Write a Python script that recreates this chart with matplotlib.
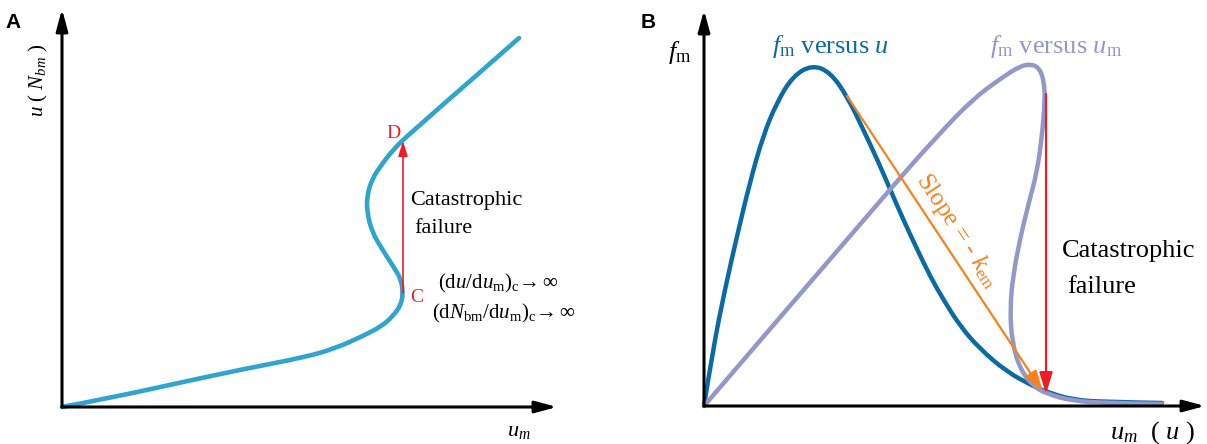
import matplotlib
matplotlib.use("Agg")
import matplotlib.pyplot as plt
from matplotlib.path import Path
from matplotlib.patches import PathPatch
import numpy as np

plt.rcParams["font.family"] = ["Liberation Serif", "DejaVu Serif"]
plt.rcParams["mathtext.fontset"] = "custom"
plt.rcParams["mathtext.rm"] = "Liberation Serif"
plt.rcParams["mathtext.it"] = "Liberation Serif:italic"

# panel A: u versus u_m (S-shaped curve)
um_a = [0, 53, 130, 187, 244, 274, 301, 320, 331, 339, 341, 339, 331, 320, 310,
        305, 305, 310, 320, 331, 343, 358, 377, 415, 457]
u_a = [0, 10, 27, 39, 50, 59, 71, 81, 91, 102, 114, 128, 141, 158, 175,
       195, 211, 228, 243, 257, 269, 282, 299, 332, 369]
point_c = (341, 114)
point_d = (341, 266)

# panel B: f_m versus u (dark blue) and f_m versus u_m (light purple)
u_b = [0, 9, 21, 33, 46, 59, 73, 89, 108, 126, 143, 159, 173, 186, 199, 213,
       226, 239, 256, 276, 303, 329, 343, 369, 403, 458]
fm_u = [0, 57, 117, 170, 224, 270, 304, 330, 341, 334, 310, 277, 247, 217, 187, 157,
        130, 107, 80, 57, 34, 20, 14, 6, 4, 3]
um_b = [0, 186, 236, 269, 296, 316, 328, 336, 340, 341, 338, 333, 324, 316, 309,
        306, 308, 316, 329, 343, 369, 403, 458]
fm_um = [0, 217, 273, 307, 327, 340, 342, 337, 324, 307, 270, 234, 200, 167, 130,
         97, 64, 37, 20, 12, 5, 3, 2]
slope_start = (143, 310)
slope_end = (339, 14)
fail_x = 342
fail_top = 312
fail_bottom = 12

W, H = 1207, 444
fig = plt.figure(figsize=(W / 100, H / 100), dpi=100)


def make_axes(x0, y0, x1, y1):
    ax = fig.add_axes([x0 / W, (H - y0) / H, (x1 - x0) / W, (y0 - y1) / H])
    ax.set_xlim(0, x1 - x0)
    ax.set_ylim(0, y0 - y1)
    ax.axis("off")
    return ax


def arrow(ax, start, end, color, lw, hl, hw):
    ax.annotate("", xy=end, xytext=start, annotation_clip=False,
                arrowprops=dict(arrowstyle="-|>,head_length=%s,head_width=%s" % (hl, hw),
                                color=color, lw=lw, shrinkA=0, shrinkB=0,
                                mutation_scale=10))


def smooth_curve(ax, xs, ys, color, lw):
    # quadratic bezier path through the read points (points act as control points)
    pts = np.column_stack([xs, ys]).astype(float)
    verts = [pts[0]]
    codes = [Path.MOVETO]
    for i in range(1, len(pts) - 1):
        mid = (pts[i] + pts[i + 1]) / 2 if i < len(pts) - 2 else pts[i + 1]
        verts += [pts[i], mid]
        codes += [Path.CURVE3, Path.CURVE3]
    patch = PathPatch(Path(verts, codes), facecolor="none", edgecolor=color, lw=lw,
                      capstyle="round", joinstyle="round", clip_on=False)
    ax.add_patch(patch)


# ---- panel A ----
axA = make_axes(62, 407, 557, 9)
arrow(axA, (0, 0), (495, 0), "black", 2.2, 1.3, 0.35)
arrow(axA, (0, 0), (0, 398), "black", 2.2, 1.3, 0.35)
smooth_curve(axA, um_a, u_a, "#2ea4cf", 3.3)
arrow(axA, point_c, point_d, "#ee1c25", 1.2, 0.9, 0.28)
axA.text(331, 274, "D", color="#ee1c25", fontsize=14, ha="center", va="center")
axA.text(355, 110, "C", color="#ee1c25", fontsize=14, ha="center", va="center")
axA.text(348, 207, "Catastrophic", fontsize=16, ha="left", va="center")
axA.text(352, 179, "failure", fontsize=16, ha="left", va="center")
axA.text(376, 124, r"$(\mathrm{d}u/\mathrm{d}u_{\mathrm{m}})_{\mathrm{c}}\!\rightarrow\infty$",
         fontsize=15, ha="left", va="center")
axA.text(370, 94, r"$(\mathrm{d}N_{\mathrm{bm}}/\mathrm{d}u_{\mathrm{m}})_{\mathrm{c}}\!\rightarrow\infty$",
         fontsize=15, ha="left", va="center")
axA.text(-24, 327, r"$u$ ( $N_{bm}$ )", fontsize=15, rotation=90, ha="center", va="center")
axA.text(457, -24, r"$u_m$", fontsize=16, ha="center", va="center")
fig.text(5 / W, (H - 22) / H, "A", fontsize=15, fontweight="bold",
         family="Liberation Sans", ha="left", va="center")

# ---- panel B ----
axB = make_axes(704, 406, 1205, 10)
arrow(axB, (0, 0), (501, 0), "black", 2.2, 1.3, 0.35)
arrow(axB, (0, 0), (0, 396), "black", 2.2, 1.3, 0.35)
smooth_curve(axB, u_b, fm_u, "#0b6aa6", 3.2)
smooth_curve(axB, um_b, fm_um, "#9398ca", 3.2)
arrow(axB, slope_start, slope_end, "#f5821f", 1.6, 1.3, 0.4)
arrow(axB, (fail_x, fail_top), (fail_x, fail_bottom), "#ee1c25", 1.6, 1.3, 0.4)

ang = np.degrees(np.arctan2(slope_end[1] - slope_start[1], slope_end[0] - slope_start[0]))
axB.text(253, 175, r"Slope = - $k_{\mathrm{em}}$", color="#f5821f", fontsize=18,
         rotation=ang, rotation_mode="anchor", ha="center", va="center")
axB.text(68, 360, r"$f_{\mathrm{m}}$ versus $u$", color="#0b6aa6", fontsize=19,
         ha="left", va="center")
axB.text(286, 360, r"$f_{\mathrm{m}}$ versus $u_{\mathrm{m}}$", color="#9398ca", fontsize=19,
         ha="left", va="center")
axB.text(358, 155, "Catastrophic", fontsize=19, ha="left", va="center")
axB.text(363, 119, "failure", fontsize=19, ha="left", va="center")
axB.text(-36, 353, r"$f_{\mathrm{m}}$", fontsize=19, ha="left", va="center")
axB.text(406, -27, r"$u_m$  ( $u$ )", fontsize=19, ha="left", va="center")
fig.text(641 / W, (H - 23) / H, "B", fontsize=15, fontweight="bold",
         family="Liberation Sans", ha="left", va="center")

fig.savefig("out.png", dpi=100)
